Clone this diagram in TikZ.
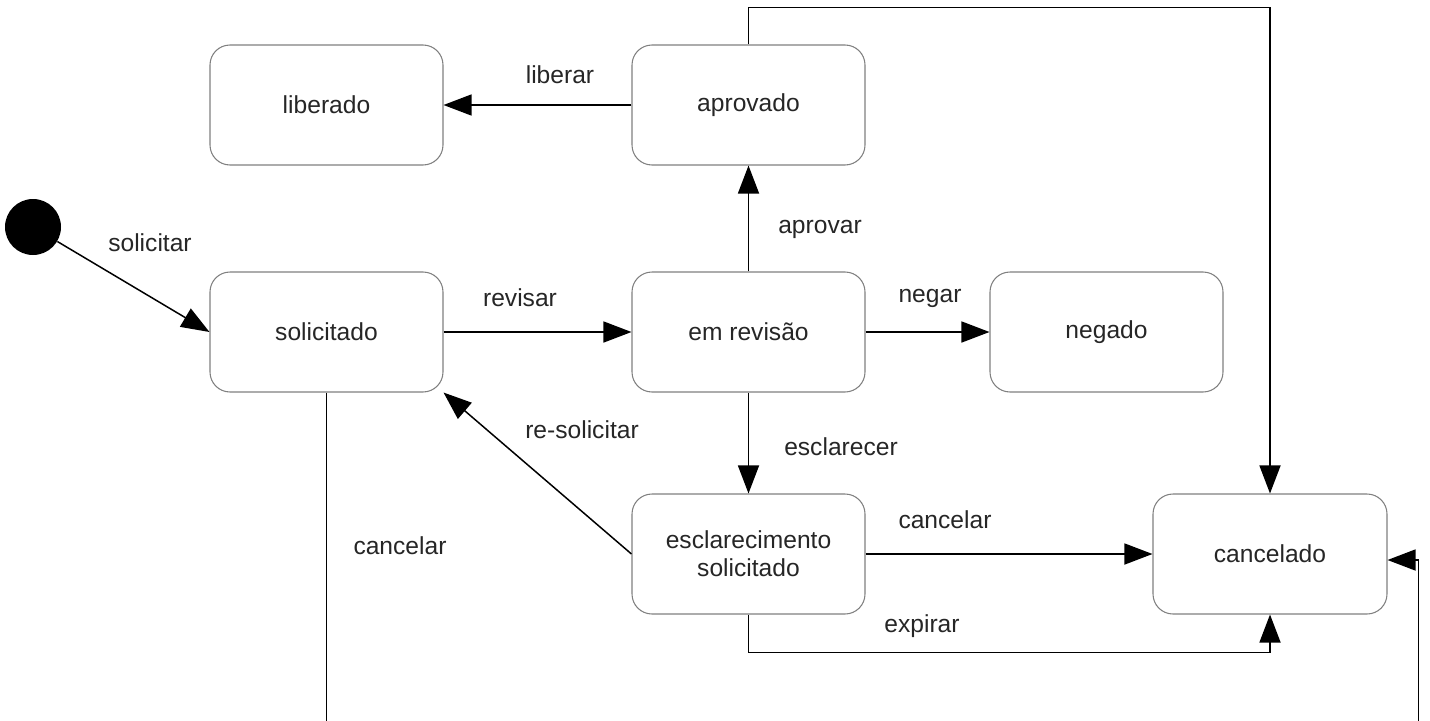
\documentclass[tikz,border=0pt]{standalone}
\usepackage{fontspec}
\setmainfont{Liberation Sans}
\usetikzlibrary{arrows.meta}
\begin{document}
\begin{tikzpicture}[
  state/.style={draw=black!50,line width=0.6pt,rounded corners=0.4cm,minimum width=4.66cm,minimum height=2.4cm,align=center,text=black!85},
  lbl/.style={text=black!85},
  arr/.style={-{Triangle[length=16pt,width=12pt]},line width=0.85pt},
  every node/.style={font=\fontsize{14}{16}\selectfont}]
\useasboundingbox (0,0) rectangle (28.6,-14.4);
\clip (0,0) rectangle (28.6,-14.4);
% states
\node[circle,fill=black,minimum size=1.12cm,inner sep=0pt] (start) at (0.66,-4.54){};
\node[state] (liberado) at (6.53,-2.1){liberado};
\node[state] (aprovado) at (14.97,-2.1){aprovado};
\node[state] (solicitado) at (6.53,-6.64){solicitado};
\node[state] (revisao) at (14.97,-6.64){em revisão};
\node[state] (negado) at (22.13,-6.64){negado};
\node[state] (esclarec) at (14.97,-11.08){esclarecimento\\solicitado};
\node[state,minimum width=4.68cm] (cancelado) at (25.4,-11.08){cancelado};
% transitions
\draw[arr] (start)--(solicitado.west);\node[lbl] (tsolicitar) at (3.0,-4.86){solicitar};
\draw[arr] (aprovado)--(liberado);\node[lbl] (tliberar) at (11.2,-1.5){liberar};
\draw[arr] (solicitado)--(revisao);\node[lbl] (trevisar) at (10.4,-5.96){revisar};
\draw[arr] (revisao)--(aprovado);\node[lbl] (taprovar) at (16.4,-4.58){aprovar};
\draw[arr] (revisao)--(negado);\node[lbl] (tnegar) at (18.6,-5.96){negar};
\draw[arr] (revisao)--(esclarec);\node[lbl] (tesclarecer) at (16.82,-8.94){esclarecer};
\draw[arr] (esclarec.west)--(solicitado.south east);\node[lbl] (tresolicitar) at (11.64,-8.6){re-solicitar};
\draw[arr] (esclarec)--(cancelado);\node[lbl] (tcancelar) at (18.9,-10.4){cancelar};
\draw[arr] (esclarec.south)--++(0,-0.76)-|(cancelado.south);\node[lbl] (texpirar) at (18.44,-12.52){expirar};
\draw[arr] (aprovado.north)--++(0,0.74)-|(cancelado.north);
\coordinate (cright) at ([yshift=-0.12cm]cancelado.east);
\draw[arr] (solicitado.south)--++(0,-8.5)-|([xshift=0.62cm]cright)--(cright);\node[lbl] (tcancelar2) at (8.0,-10.92){cancelar};
\end{tikzpicture}
\end{document}
